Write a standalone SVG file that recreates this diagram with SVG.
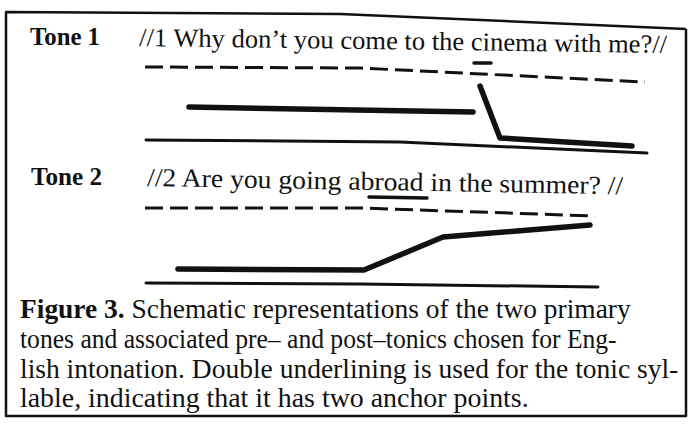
<svg xmlns="http://www.w3.org/2000/svg" width="688" height="424" viewBox="0 0 688 424">
<style>
.lbl{font-family:"Liberation Serif","Times New Roman",serif;font-size:26px;font-weight:bold;fill:#111}
.ex{font-family:"Liberation Serif","Times New Roman",serif;font-size:26px;fill:#111}
.cap{font-family:"Liberation Serif","Times New Roman",serif;font-size:28px;fill:#111}
.b{font-weight:bold}
.frame{fill:none;stroke:#111;stroke-width:2.5;stroke-linejoin:round}
.dash{fill:none;stroke:#111;stroke-width:3;stroke-dasharray:18 7}
.pitch{fill:none;stroke:#111;stroke-width:5.5;stroke-linecap:round;stroke-linejoin:round}
.base{fill:none;stroke:#111;stroke-width:3;stroke-linecap:round}
.ul{fill:none;stroke:#111;stroke-width:3.5;stroke-linecap:round}
</style>
<rect width="688" height="424" fill="#fff"/>
<polyline class="frame" points="686,29 340,14 6,12 6,416 686,416 686,29"/>

<g id="tone1">
  <text class="lbl" x="30" y="45" textLength="70" lengthAdjust="spacingAndGlyphs">Tone 1</text>
  <text class="ex" x="139" y="46" textLength="528" lengthAdjust="spacingAndGlyphs" transform="rotate(0.75 139 46)">//1 Why don’t you come to the cinema with me?//</text>
  <line class="ul" x1="474" y1="63" x2="491" y2="63"/>
  <polyline class="dash" points="145,67 360,68 645,82"/>
  <polyline class="pitch" points="189,107 473,112"/>
  <polyline class="pitch" points="480,86 500,138 632,146"/>
  <polyline class="base" points="146,140 400,142 647,153"/>
</g>

<g id="tone2">
  <text class="lbl" x="31" y="185" textLength="71" lengthAdjust="spacingAndGlyphs">Tone 2</text>
  <text class="ex" x="147" y="186" textLength="476" lengthAdjust="spacingAndGlyphs" transform="rotate(1 147 186)">//2 Are you going abroad in the summer? //</text>
  <line class="ul" x1="369" y1="197" x2="427" y2="198"/>
  <polyline class="dash" points="145,208 360,208 595,216"/>
  <polyline class="pitch" points="178,269 364,270 443,237 590,225"/>
  <polyline class="base" points="146,283 360,284 598,287"/>
</g>

<g id="caption" transform="translate(20 0) scale(0.88 1)">
  <text class="cap" x="0" y="318" textLength="694" lengthAdjust="spacingAndGlyphs"><tspan class="b">Figure 3.</tspan> Schematic representations of the two primary</text>
  <text class="cap" x="0" y="348" textLength="678" lengthAdjust="spacingAndGlyphs">tones and associated pre– and post–tonics chosen for Eng-</text>
  <text class="cap" x="0" y="378" textLength="748" lengthAdjust="spacingAndGlyphs">lish intonation. Double underlining is used for the tonic syl-</text>
  <text class="cap" x="0" y="407" textLength="578" lengthAdjust="spacingAndGlyphs">lable, indicating that it has two anchor points.</text>
</g>
</svg>
